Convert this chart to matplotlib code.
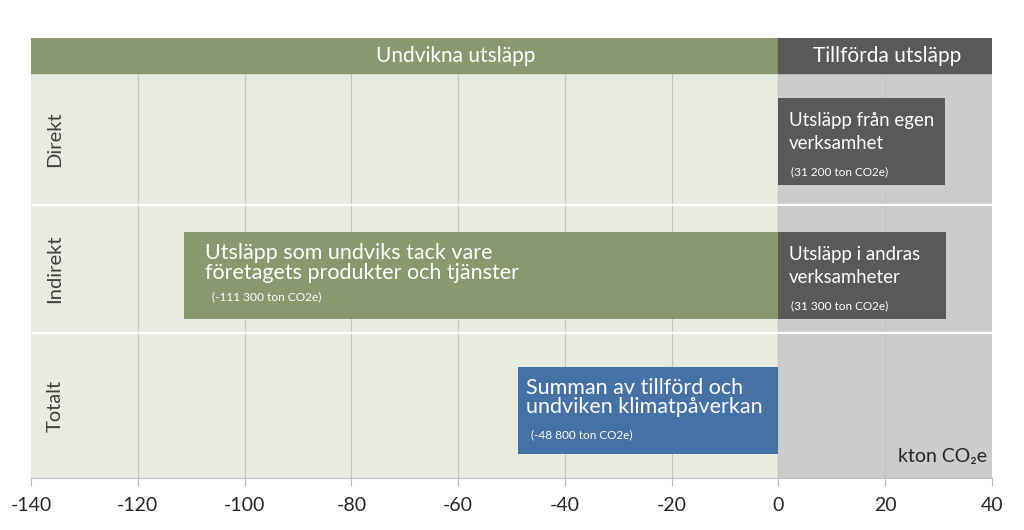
import matplotlib.pyplot as plt
from matplotlib.patches import Rectangle

# data (kton CO2e)
#---------------------------------------------------------------------------
categories = ['Direkt', 'Indirekt', 'Totalt']
added = [31.2, 31.3, 0]          # tillförda utsläpp
avoided = [0, -111.3, 0]         # undvikna utsläpp
net = [0, 0, -48.8]              # summa
added_labels = ['Utsläpp från egen\nverksamhet', 'Utsläpp i andras\nverksamheter', '']
added_notes = ['(31 200 ton CO2e)', '(31 300 ton CO2e)', '']
avoided_label = 'Utsläpp som undviks tack vare\nföretagets produkter och tjänster'
avoided_note = '(-111 300 ton CO2e)'
net_label = 'Summan av tillförd och\nundviken klimatpåverkan'
net_note = '(-48 800 ton CO2e)'
xticks = list(range(-140, 41, 20))

GREEN = '#8a9870'
DARK = '#595959'
BLUE = '#4471a6'
plt.rcParams['font.family'] = ['Lato', 'DejaVu Sans']

# layout (y in pixel-like units from top of header)
HEAD = 35
row_edges = [HEAD, 167, 295, 440]
row_center = [(row_edges[i] + row_edges[i + 1]) / 2 for i in range(3)]
bar_center = [103.5, 237.5, 372]
BAR_H = 87

fig = plt.figure(figsize=(10.24, 5.3), dpi=100)
ax = fig.add_axes([31 / 1024, 1 - 478 / 530, 961 / 1024, 440 / 530])
ax.set_xlim(-140, 40)
ax.set_ylim(440, 0)

# backgrounds
ax.add_patch(Rectangle((-140, HEAD), 140, 440 - HEAD, color='#e8ebe0', zorder=0))
ax.add_patch(Rectangle((0, HEAD), 40, 440 - HEAD, color='#cccccc', zorder=0))
for x in xticks[1:-1]:
    ax.plot([x, x], [HEAD, 440], color='#c4c6c0', lw=0.8, zorder=1)
for y in row_edges[1:3]:
    ax.plot([-140, 40], [y, y], color='white', lw=1.5, zorder=1)

# header
ax.add_patch(Rectangle((-140, 0), 140, HEAD, color=GREEN, zorder=2))
ax.add_patch(Rectangle((0, 0), 40, HEAD, color=DARK, zorder=2))
ax.text(-60.4, HEAD / 2, 'Undvikna utsläpp', color='white', fontsize=15,
        ha='center', va='center', zorder=3)
ax.text(20.3, HEAD / 2, 'Tillförda utsläpp', color='white', fontsize=15,
        ha='center', va='center', zorder=3)

# row labels
for name, yc in zip(categories, row_center):
    ax.text(-135.5, yc, name, rotation=90, fontsize=14.5, color='#404040',
            ha='center', va='center')

# bars
ax.barh(bar_center, added, height=BAR_H, color=DARK, zorder=2)
ax.barh(bar_center, avoided, height=BAR_H, color=GREEN, zorder=2)
ax.barh(bar_center, net, height=BAR_H, color=BLUE, zorder=2)

for i in range(3):
    top = bar_center[i] - BAR_H / 2
    if added[i] > 0:
        ax.text(2.0, top + 34, added_labels[i], color='white', fontsize=13.4,
                ha='left', va='center', linespacing=1.4, zorder=3)
        ax.text(2.4, top + 74, added_notes[i], color='white', fontsize=8.5,
                ha='left', va='center', zorder=3)
    if avoided[i] < 0:
        ax.text(avoided[i] + 3.9, top + 31, avoided_label, color='white',
                fontsize=15.5, ha='left', va='center', linespacing=0.95, zorder=3)
        ax.text(avoided[i] + 5.2, top + 65, avoided_note, color='white',
                fontsize=8.6, ha='left', va='center', zorder=3)
    if net[i] < 0:
        ax.text(net[i] + 1.5, top + 31, net_label, color='white',
                fontsize=15.5, ha='left', va='center', linespacing=0.95, zorder=3)
        ax.text(net[i] + 2.4, top + 68, net_note, color='white',
                fontsize=8.5, ha='left', va='center', zorder=3)

ax.text(39, 418, 'kton CO₂e', fontsize=14, color='#262626', ha='right', va='center')

# axes styling
for s in ['top', 'right', 'left']:
    ax.spines[s].set_visible(False)
ax.spines['bottom'].set_color('#bfbfbf')
ax.set_yticks([])
ax.set_xticks(xticks)
ax.set_xticklabels([str(x) for x in xticks])
ax.tick_params(axis='x', length=6, color='#bfbfbf', labelsize=14,
               labelcolor='#262626', pad=8)

plt.savefig('out.png', dpi=100)
